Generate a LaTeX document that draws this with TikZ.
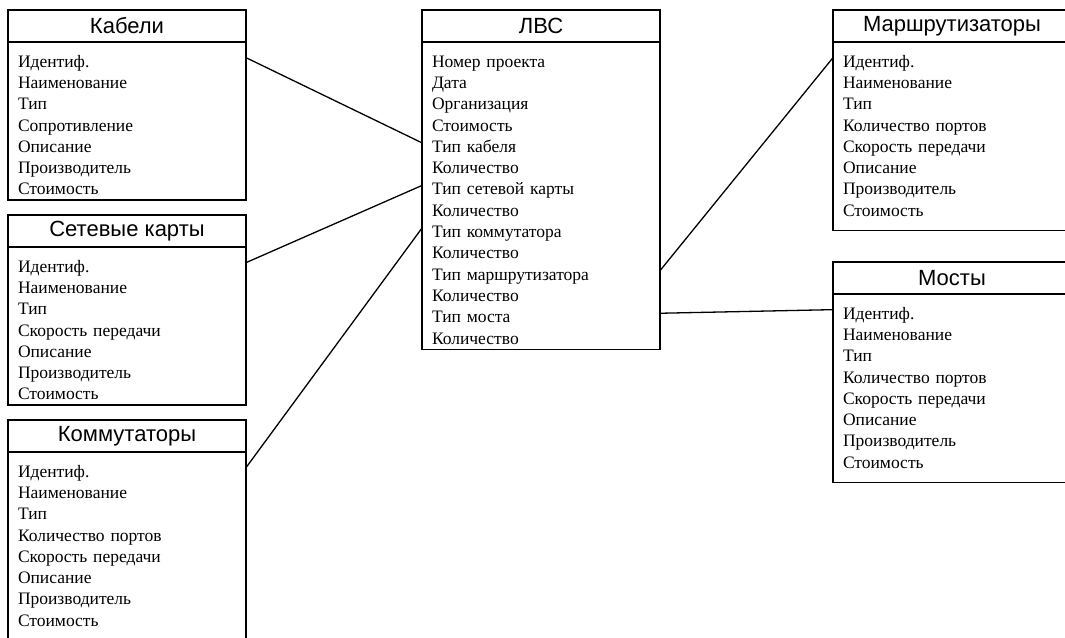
\documentclass[tikz,border=0pt]{standalone}
\usepackage{fontspec}
\setmainfont{Liberation Serif}
\newfontfamily\headfamily{Liberation Sans}
\usetikzlibrary{positioning}

\begin{document}
\begin{tikzpicture}[
    x=1pt, y=-1pt,
    head/.style={rectangle, draw, line width=1.3pt, outer sep=0pt, minimum width=238pt, minimum height=32pt, inner sep=0pt, font=\headfamily\fontsize{22}{26}\selectfont},
    field/.style={rectangle, outer sep=0pt, text width=218pt, inner xsep=10pt, inner ysep=0pt, minimum height=21.3pt, text height=19pt, text depth=0pt, align=left, font=\fontsize{17.5}{21.3}\selectfont},
    outline/.style={draw, line width=1.3pt},
    link/.style={draw, line width=1.3pt}
]
\useasboundingbox (0,0) rectangle (1065,637);
\clip (0,0) rectangle (1065,637);

% Кабели
\node[head, anchor=north west] (cables) at (8,10) {Кабели};
\node[field, below=5pt of cables] (cables-1) {Идентиф.};
\foreach \t [count=\i from 2, remember=\i as \j (initially 1)] in {Наименование, Тип, Сопротивление, Описание, Производитель, Стоимость}
  \node[field, below=0pt of cables-\j] (cables-\i) {\t};
\draw[outline] (cables.south west) rectangle ([yshift=-4pt]cables-7.south east);

% Сетевые карты
\node[head, anchor=north west] (cards) at (8,215) {Сетевые карты};
\node[field, below=5pt of cards] (cards-1) {Идентиф.};
\foreach \t [count=\i from 2, remember=\i as \j (initially 1)] in {Наименование, Тип, Скорость передачи, Описание, Производитель, Стоимость}
  \node[field, below=0pt of cards-\j] (cards-\i) {\t};
\draw[outline] (cards.south west) rectangle ([yshift=-4pt]cards-7.south east);

% Коммутаторы
\node[head, anchor=north west] (switches) at (8,420) {Коммутаторы};
\node[field, below=5pt of switches] (switches-1) {Идентиф.};
\foreach \t [count=\i from 2, remember=\i as \j (initially 1)] in {Наименование, Тип, Количество портов, Скорость передачи, Описание, Производитель, Стоимость}
  \node[field, below=0pt of switches-\j] (switches-\i) {\t};
\draw[outline] (switches.south west) rectangle ([yshift=-13pt]switches-8.south east);

% ЛВС
\node[head, anchor=north west] (lan) at (422,10) {ЛВС};
\node[field, below=5pt of lan] (lan-1) {Номер проекта};
\foreach \t [count=\i from 2, remember=\i as \j (initially 1)] in {Дата, Организация, Стоимость, Тип кабеля, Количество, Тип сетевой карты, Количество, Тип коммутатора, Количество, Тип маршрутизатора, Количество, Тип моста, Количество}
  \node[field, below=0pt of lan-\j] (lan-\i) {\t};
\draw[outline] (lan.south west) rectangle ([yshift=-4pt]lan-14.south east);

% Маршрутизаторы
\node[head, anchor=north west] (routers) at (833,10) {Маршрутизаторы};
\node[field, below=5pt of routers] (routers-1) {Идентиф.};
\foreach \t [count=\i from 2, remember=\i as \j (initially 1)] in {Наименование, Тип, Количество портов, Скорость передачи, Описание, Производитель, Стоимость}
  \node[field, below=0pt of routers-\j] (routers-\i) {\t};
\draw[outline] (routers.south west) rectangle ([yshift=-13pt]routers-8.south east);

% Мосты
\node[head, anchor=north west] (bridges) at (833,262) {Мосты};
\node[field, below=5pt of bridges] (bridges-1) {Идентиф.};
\foreach \t [count=\i from 2, remember=\i as \j (initially 1)] in {Наименование, Тип, Количество портов, Скорость передачи, Описание, Производитель, Стоимость}
  \node[field, below=0pt of bridges-\j] (bridges-\i) {\t};
\draw[outline] (bridges.south west) rectangle ([yshift=-13pt]bridges-8.south east);

% связи
\draw[link] (cables-1.east) -- (lan-5.west);
\draw[link] (cards-1.east) -- (lan-7.west);
\draw[link] (switches-1.east) -- (lan-9.west);
\draw[link] (lan-11.east) -- (routers-1.west);
\draw[link] (lan-13.east) -- (bridges-1.west);

\end{tikzpicture}
\end{document}
